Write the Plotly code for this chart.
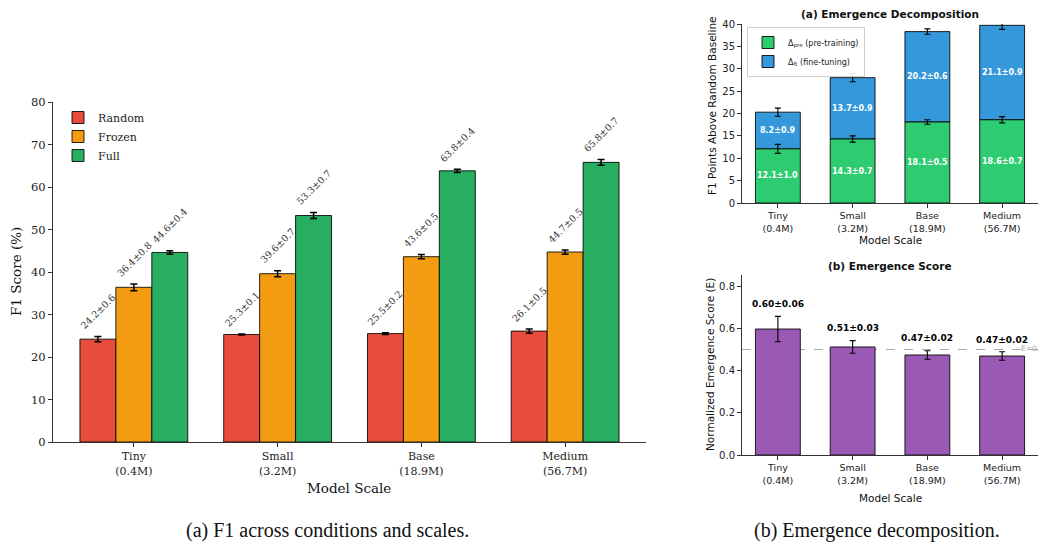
import plotly.graph_objects as go

# ---------------- data ----------------
scales = ["Tiny", "Small", "Base", "Medium"]
params = ["0.4M", "3.2M", "18.9M", "56.7M"]
tick_text = [f"{s}<br>({p})" for s, p in zip(scales, params)]

random_f1 = [24.2, 25.3, 25.5, 26.1]
random_err = [0.6, 0.1, 0.2, 0.5]
frozen_f1 = [36.4, 39.6, 43.6, 44.7]
frozen_err = [0.8, 0.7, 0.5, 0.5]
full_f1 = [44.6, 53.3, 63.8, 65.8]
full_err = [0.4, 0.7, 0.4, 0.7]

delta_pre = [12.1, 14.3, 18.1, 18.6]
delta_pre_err = [1.0, 0.7, 0.5, 0.7]
delta_ft = [8.2, 13.7, 20.2, 21.1]
delta_ft_err = [0.9, 0.9, 0.6, 0.9]

emergence = [0.597, 0.512, 0.474, 0.469]
emergence_err = [0.06, 0.03, 0.02, 0.02]

left_ticks = [0, 10, 20, 30, 40, 50, 60, 70, 80]

W, H = 1047, 546
OFF = 8  # page body margin in front of the plot div

def px(x):
    return (x - OFF) / W
def py(y):
    return 1 - (y - OFF) / H

SERIF = "DejaVu Serif"
SANS = "DejaVu Sans"
EDGE = "rgba(0,0,0,0.85)"
idx = list(range(len(scales)))

fig = go.Figure()

# ---------------- left chart ----------------
conds = [("Random", random_f1, random_err, "#e74c3c"),
         ("Frozen", frozen_f1, frozen_err, "#f39c12"),
         ("Full", full_f1, full_err, "#27ae60")]
for name, vals, errs, col in conds:
    fig.add_trace(go.Bar(
        x=idx, y=vals, name=name, xaxis="x", yaxis="y", legend="legend",
        marker=dict(color=col, line=dict(color=EDGE, width=1)),
        error_y=dict(type="data", array=errs, color="black", thickness=1.5, width=3.5),
    ))

annotations = []
for k, (name, vals, errs, col) in enumerate(conds):
    for i in idx:
        annotations.append(dict(
            x=i + (k - 1) * 0.25, y=vals[i] + errs[i] + 0.6, xref="x", yref="y",
            text=f"{vals[i]:.1f}±{errs[i]:.1f}", showarrow=False, textangle=-45,
            xanchor="center", yanchor="bottom",
            font=dict(family=SERIF, size=9.5, color="#333")))

# ---------------- right top chart ----------------
# fine-tuning segment first so the pre-training error bars are drawn on top of it
fig.add_trace(go.Bar(
    x=idx, y=delta_ft, base=delta_pre, name="Δ<sub>ft</sub> (fine-tuning)", xaxis="x2", yaxis="y2",
    legend="legend2", offsetgroup="s", width=0.6,
    marker=dict(color="#3498db", line=dict(color=EDGE, width=1)),
    error_y=dict(type="data", array=delta_ft_err, color="black", thickness=1.1, width=3),
))
fig.add_trace(go.Bar(
    x=idx, y=delta_pre, name="Δ<sub>pre</sub> (pre-training)", xaxis="x2", yaxis="y2",
    legend="legend2", offsetgroup="s", width=0.6,
    marker=dict(color="#2ecc71", line=dict(color=EDGE, width=1)),
    error_y=dict(type="data", array=delta_pre_err, color="black", thickness=1.1, width=3),
))
for i in idx:
    annotations.append(dict(
        x=i, y=delta_pre[i] / 2, xref="x2", yref="y2", showarrow=False,
        text=f"<b>{delta_pre[i]:.1f}±{delta_pre_err[i]:.1f}</b>",
        font=dict(family=SANS, size=8, color="white")))
    annotations.append(dict(
        x=i, y=delta_pre[i] + delta_ft[i] / 2, xref="x2", yref="y2", showarrow=False,
        text=f"<b>{delta_ft[i]:.1f}±{delta_ft_err[i]:.1f}</b>",
        font=dict(family=SANS, size=8, color="white")))

# ---------------- right bottom chart ----------------
fig.add_trace(go.Bar(
    x=idx, y=emergence, name="E", xaxis="x3", yaxis="y3", showlegend=False,
    offsetgroup="e", width=0.6,
    marker=dict(color="#9b59b6", line=dict(color=EDGE, width=1)),
    error_y=dict(type="data", array=emergence_err, color="black", thickness=1.1, width=3),
))
for i in idx:
    annotations.append(dict(
        x=i, y=emergence[i] + emergence_err[i] + 0.025, xref="x3", yref="y3", showarrow=False,
        xanchor="center", yanchor="bottom",
        text=f"<b>{emergence[i]:.2f}±{emergence_err[i]:.2f}</b>",
        font=dict(family=SANS, size=9, color="black")))

annotations.append(dict(x=px(1019), y=0.505, xref="paper", yref="y3", xanchor="left",
                        yanchor="middle", showarrow=False, text="E=0.5",
                        font=dict(family=SANS, size=7.5, color="#aaaaaa")))

def label(x, y, text, size, family, angle=0):
    return dict(x=px(x), y=py(y), xref="paper", yref="paper", text=text, textangle=angle,
                xanchor="center", yanchor="middle", showarrow=False,
                font=dict(family=family, size=size, color="#111"))

annotations += [
    label(16, 272, "F1 Score (%)", 13.5, SERIF, -90),
    label(349, 488, "Model Scale", 13.5, SERIF),
    label(890, 14, "<b>(a) Emergence Decomposition</b>", 10.5, SANS),
    label(712, 106, "F1 Points Above Random Baseline", 10.5, SANS, -90),
    label(890, 240, "Model Scale", 10.5, SANS),
    label(890, 266, "<b>(b) Emergence Score</b>", 10.5, SANS),
    label(710, 365, "Normalized Emergence Score (E)", 10.5, SANS, -90),
    label(890, 498, "Model Scale", 10.5, SANS),
    label(327, 530, "(a) F1 across conditions and scales.", 20, "Liberation Serif"),
    label(877, 530, "(b) Emergence decomposition.", 20, "Liberation Serif"),
]

axis_common = dict(showline=True, linecolor="#333", linewidth=1, ticks="outside",
                   ticklen=4, tickcolor="#333", showgrid=False, zeroline=False,
                   automargin=False)

fig.update_layout(
    template="none",
    width=W, height=H, margin=dict(l=0, r=0, t=0, b=0, pad=0, autoexpand=False),
    paper_bgcolor="white", plot_bgcolor="white",
    barmode="group", bargap=0.25, bargroupgap=0,
    xaxis=dict(domain=[px(53), px(646)], range=[-0.5625, 3.5625], tickvals=idx, ticktext=tick_text,
               tickfont=dict(family=SERIF, size=11, color="#222"), anchor="y", **axis_common),
    yaxis=dict(domain=[py(442), py(102)], range=[0, 80], tickvals=left_ticks,
               tickfont=dict(family=SERIF, size=11.5, color="#222"), anchor="x", **axis_common),
    xaxis2=dict(domain=[px(742), px(1038)], range=[-0.48, 3.48], tickvals=idx, ticktext=tick_text,
                tickfont=dict(family=SANS, size=9.5, color="#222"), anchor="y2", **axis_common),
    yaxis2=dict(domain=[py(203), py(24)], range=[0, 40], dtick=5,
                tickfont=dict(family=SANS, size=10, color="#222"), anchor="x2", **axis_common),
    xaxis3=dict(domain=[px(742), px(1038)], range=[-0.48, 3.48], tickvals=idx, ticktext=tick_text,
                tickfont=dict(family=SANS, size=9.5, color="#222"), anchor="y3", **axis_common),
    yaxis3=dict(domain=[py(455), py(275)], range=[0, 0.853], tickvals=[0, 0.2, 0.4, 0.6, 0.8],
                tickformat=".1f", tickfont=dict(family=SANS, size=10, color="#222"), anchor="x3",
                **axis_common),
    legend=dict(x=px(58), y=py(103), xanchor="left", yanchor="top", bgcolor="rgba(255,255,255,0)",
                borderwidth=0, font=dict(family=SERIF, size=11, color="#222"), tracegroupgap=0),
    legend2=dict(x=px(747), y=py(27), xanchor="left", yanchor="top", bgcolor="rgba(255,255,255,0.9)",
                 bordercolor="#cccccc", borderwidth=1, traceorder="reversed",
                 font=dict(family=SANS, size=8, color="#222")),
    annotations=annotations,
    shapes=[dict(type="line", xref="x3 domain", yref="y3", x0=0, x1=1, y0=0.5, y1=0.5,
                 line=dict(color="#aaaaaa", width=1, dash="dash"), layer="below")],
    showlegend=True,
)

fig.write_html("out.html")
